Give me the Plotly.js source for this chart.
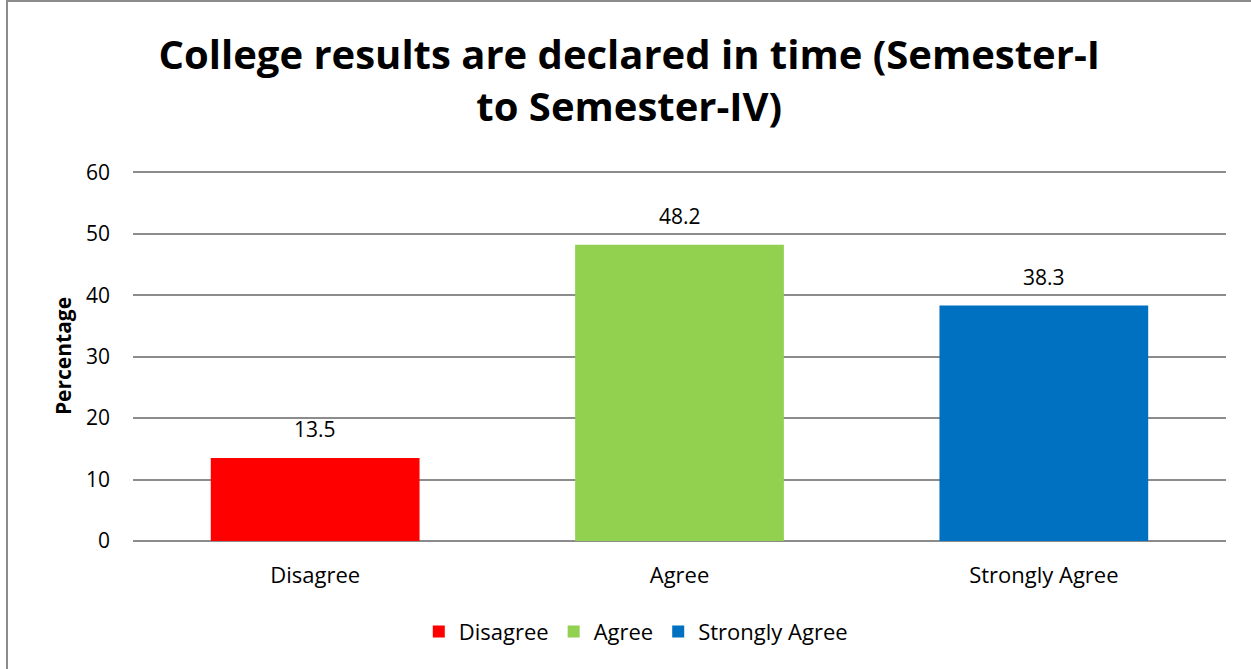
<!DOCTYPE html>
<html>
<head>
<meta charset="utf-8">
<script src="https://cdn.plot.ly/plotly-3.0.1.min.js"></script>
<style>
html,body{margin:0;padding:0;background:#fff;overflow:hidden;}
#frame{position:absolute;left:6px;top:0px;width:1260px;height:680px;border:2px solid #8c8c8c;box-sizing:border-box;pointer-events:none;z-index:5;}
#chart{position:absolute;left:0;top:0;width:1251px;height:669px;}
</style>
</head>
<body>
<div id="chart"></div>
<div id="frame"></div>
<script>
const categories = ["Disagree", "Agree", "Strongly Agree"];
const values = [13.5, 48.2, 38.3];
const colors = ["#ff0000", "#92d050", "#0070c0"];
const tickVals = [0, 10, 20, 30, 40, 50, 60];

const FONT = "Open Sans, Noto Sans, sans-serif";

const traces = categories.map((c, i) => ({
  type: "bar",
  name: c,
  x: [c],
  y: [values[i]],
  marker: {color: colors[i]},
  hoverinfo: "x+y"
}));

const annotations = categories.map((c, i) => ({
  x: c,
  y: values[i],
  xref: "x",
  yref: "y",
  text: values[i].toFixed(1),
  showarrow: false,
  yanchor: "bottom",
  yshift: 13,
  font: {family: FONT, size: 21, color: "#000"}
}));

const layout = {
  width: 1251,
  height: 669,
  margin: {l: 133, r: 25, t: 171, b: 128},
  paper_bgcolor: "#fff",
  plot_bgcolor: "#fff",
  barmode: "overlay",
  bargap: 0.427,
  annotations: annotations,
  title: {
    text: "<b>College results are declared in time (Semester-I<br>to Semester-IV)</b>",
    font: {family: FONT, size: 40, color: "#000"},
    x: 0.503,
    xanchor: "center",
    y: 0.897,
    yanchor: "middle"
  },
  xaxis: {
    categoryorder: "array",
    categoryarray: categories,
    showgrid: false,
    showline: false,
    zeroline: false,
    ticks: "",
    tickfont: {family: FONT, size: 22, color: "#000"},
    ticklabelstandoff: 19
  },
  yaxis: {
    range: [0, 60.2],
    tickvals: tickVals,
    showgrid: true,
    gridcolor: "#8c8c8c",
    gridwidth: 1.5,
    zeroline: true,
    zerolinecolor: "#8c8c8c",
    zerolinewidth: 1.5,
    showline: false,
    ticks: "",
    ticklabelstandoff: 22,
    tickfont: {family: FONT, size: 21, color: "#000"},
    title: {
      text: "<b>Percentage</b>",
      font: {family: FONT, size: 21, color: "#000"},
      standoff: 8
    }
  },
  showlegend: true,
  legend: {
    orientation: "h",
    x: 0.46,
    xanchor: "center",
    y: -0.245,
    yanchor: "middle",
    font: {family: FONT, size: 22, color: "#000"},
    itemwidth: 30,
    traceorder: "normal"
  }
};

Plotly.newPlot("chart", traces, layout, {displayModeBar: false});
</script>
</body>
</html>
